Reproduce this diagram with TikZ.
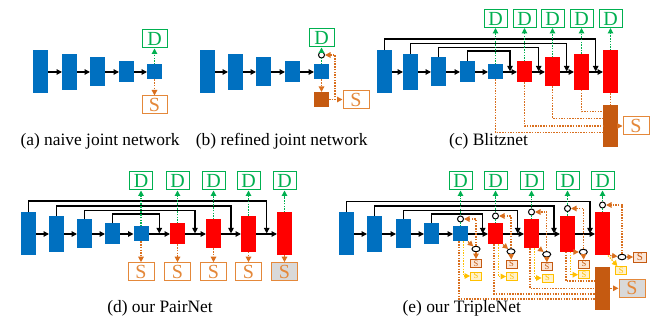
\documentclass[tikz,border=0pt]{standalone}
\usepackage{fontspec}
\setmainfont{Liberation Serif}
\usetikzlibrary{arrows.meta,shapes.geometric}

\definecolor{netblue}{HTML}{0070C0}
\definecolor{netred}{HTML}{FF0000}
\definecolor{segbrown}{HTML}{C55A11}
\definecolor{seglink}{HTML}{D96F1E}
\definecolor{segorange}{HTML}{E4883A}
\definecolor{segpale}{HTML}{FBE5D6}
\definecolor{detgreen}{HTML}{00B050}
\definecolor{segyellow}{HTML}{FFC000}
\definecolor{yelpale}{HTML}{FFF2CC}
\definecolor{boxgray}{HTML}{D9D9D9}

\begin{document}
\begin{tikzpicture}[x=1pt,y=-1pt,>={Triangle[length=5.5pt,width=5.5pt]},
 blk/.style={fill=netblue,minimum width=15pt,minimum height=#1,inner sep=0pt,outer sep=0pt},
 rblk/.style={blk=#1,fill=netred},
 oblk/.style={blk=#1,fill=segbrown},
 dbox/.style={draw=detgreen,line width=1pt,fill=white,text=detgreen,
  minimum width=23pt,minimum height=18pt,inner sep=0pt,font=\fontsize{20}{20}\selectfont},
 sbox/.style={draw=segorange,line width=1pt,fill=white,text=segorange,
  minimum width=26pt,minimum height=18pt,inner sep=0pt,font=\fontsize{20}{20}\selectfont},
 ssml/.style={draw=segbrown,line width=0.8pt,fill=segpale,text=segbrown,
  minimum width=11pt,minimum height=8pt,inner sep=0pt,font=\fontsize{8.5}{8.5}\selectfont},
 ysml/.style={ssml,draw=segyellow,fill=yelpale,text=segyellow},
 ring/.style={circle,draw,line width=1pt,fill=white,minimum size=6pt,inner sep=0pt},
 lring/.style={ellipse,draw,line width=1pt,fill=white,minimum width=8pt,minimum height=5.5pt,inner sep=0pt},
 fwd/.style={->,line width=1.2pt},
 det/.style={detgreen,line width=1.2pt,dash pattern=on 1.5pt off 1.2pt},
 seg/.style={seglink,line width=1.2pt,dash pattern=on 1.5pt off 1.2pt},
 yel/.style={segyellow,line width=1.2pt,dash pattern=on 1.5pt off 1.2pt},
 capt/.style={font=\fontsize{17.4}{20}\selectfont}]
 \useasboundingbox (0,0) rectangle (650,320);

 % (a) naive joint network
 \node[blk=43pt] (a1) at (40.5,72) {};
 \node[blk=36pt] (a2) at (69.5,72) {};
 \node[blk=29pt] (a3) at (97.5,72) {};
 \node[blk=21pt] (a4) at (126.5,72) {};
 \node[blk=15pt] (a5) at (154.5,72) {};
 \node[dbox,minimum width=25pt] (ad) at (154.5,39) {D};
 \node[sbox,minimum width=25pt] (as) at (154.5,105) {S};
 \foreach \s/\t in {1/2,2/3,3/4,4/5} \draw[fwd] (a\s) -- (a\t);
 \draw[det,->] (a5) -- (ad);
 \draw[seg,->] (a5) -- (as);
 \node[capt] (acap) at (100,141.5) {(a) naive joint network};

 % (b) refined joint network
 \node[blk=43pt] (b1) at (207.5,72) {};
 \node[blk=36pt] (b2) at (235.5,72) {};
 \node[blk=29pt] (b3) at (263.5,72) {};
 \node[blk=21pt] (b4) at (292.5,72) {};
 \node[blk=15pt] (b5) at (321.5,72) {};
 \node[dbox,minimum width=25pt] (bd) at (321.5,38) {D};
 \node[ring] (br) at (321.5,55) {};
 \node[oblk=15pt] (bo) at (321.5,99.5) {};
 \node[sbox] (bs) at (356,99.5) {S};
 \coordinate (bk) at (335,55);
 \foreach \s/\t in {1/2,2/3,3/4,4/5} \draw[fwd] (b\s) -- (b\t);
 \draw[det] (b5) -- (br);
 \draw[det,->] (br) -- (bd);
 \draw[seg,->] (b5) -- (bo);
 \draw[seg,->] (bo) -- (bs);
 \draw[seg,->] (bo.east) -| (bk) -- (br);
 \node[capt] (bcap) at (281.7,141.5) {(b) refined joint network};

 % (c) Blitznet
 \node[blk=43pt] (c1) at (384.5,72) {};
 \node[blk=36pt] (c2) at (410.5,72) {};
 \node[blk=29pt] (c3) at (438.5,72) {};
 \node[blk=21pt] (c4) at (467.5,72) {};
 \node[blk=15pt] (c5) at (495.5,72) {};
 \node[rblk=21pt] (c6) at (524.5,72) {};
 \node[rblk=29pt] (c7) at (552.5,72) {};
 \node[rblk=36pt] (c8) at (581.5,72) {};
 \node[rblk=43pt] (c9) at (610.5,72) {};
 \foreach \i in {5,...,9} \node[dbox] (cd\i) at (c\i |- 0,18.5) {D};
 \node[oblk=42pt] (co) at (610.5,126) {};
 \node[sbox] (cs) at (636,126) {S};
 \coordinate (ct1) at (595.7,39);
 \coordinate (ct2) at (566.7,43.3);
 \coordinate (ct3) at (538.7,47.7);
 \coordinate (ct4) at (510,51);
 \foreach \s/\t in {1/2,2/3,3/4,4/5,5/6,6/7,7/8,8/9} \draw[fwd] (c\s) -- (c\t);
 \foreach \s in {1,...,4} \draw[fwd,shorten >=0.6pt] (c\s.north) |- (ct\s) -- (ct\s |- c5.center);
 \foreach \i in {5,...,9} \draw[det,->] (c\i) -- (cd\i);
 \draw[seg] (c9) -- (co);
 \draw[seg] (c8.south) |- ([yshift=14.3pt]co.west);
 \draw[seg] (c7.south) |- ([yshift=7.7pt]co.west);
 \draw[seg] (c6.south) |- (co.west);
 \draw[seg] (c5.south) |- ([yshift=-6.3pt]co.west);
 \draw[seg,->] (co) -- (cs);
 \node[capt] (ccap) at (488.5,141.5) {(c) Blitznet};

 % (d) our PairNet
 \node[blk=43pt] (d1) at (28.5,234) {};
 \node[blk=36pt] (d2) at (56.5,234) {};
 \node[blk=29pt] (d3) at (84.5,234) {};
 \node[blk=21pt] (d4) at (112.5,234) {};
 \node[blk=15pt] (d5) at (141,234) {};
 \node[rblk=21pt] (d6) at (177.5,234) {};
 \node[rblk=29pt] (d7) at (213.5,234) {};
 \node[rblk=36pt] (d8) at (248.5,234) {};
 \node[rblk=43pt] (d9) at (284.5,234) {};
 \foreach \i in {5,...,9} \node[dbox] (dd\i) at (d\i |- 0,181) {D};
 \foreach \i in {5,...,8} \node[sbox] (ds\i) at (d\i |- 0,271.7) {S};
 \node[sbox,fill=boxgray] (ds9) at (d9 |- 0,271.7) {S};
 \coordinate (dt1) at (266.7,201);
 \coordinate (dt2) at (231,206);
 \coordinate (dt3) at (195,210.7);
 \coordinate (dt4) at (159.3,214);
 \foreach \s/\t in {1/2,2/3,3/4,4/5,5/6,6/7,7/8,8/9} \draw[fwd] (d\s) -- (d\t);
 \foreach \s in {1,...,4} \draw[fwd,shorten >=0.6pt] (d\s.north) |- (dt\s) -- (dt\s |- d5.center);
 \foreach \i in {5,...,9} {
  \draw[det,->] (d\i) -- (dd\i);
  \draw[seg,->] (d\i) -- (ds\i);
 }
 \node[capt] (dcap) at (160,308) {(d) our PairNet};

 % (e) our TripleNet
 \node[blk=43pt] (e1) at (346.5,234) {};
 \node[blk=36pt] (e2) at (374.5,234) {};
 \node[blk=29pt] (e3) at (403.5,234) {};
 \node[blk=21pt] (e4) at (431.5,234) {};
 \node[blk=15pt] (e5) at (460.5,234) {};
 \node[rblk=21pt] (e6) at (495.5,234) {};
 \node[rblk=29pt] (e7) at (531.5,234) {};
 \node[rblk=36pt] (e8) at (567.5,234) {};
 \node[rblk=43pt] (e9) at (602.5,234) {};
 \foreach \i in {5,...,9} {
  \node[dbox] (ed\i) at (e\i |- 0,181) {D};
  \node[ring] (eu\i) at ([yshift=7.5pt]e\i.north) {};
 }
 \node[lring] (el5) at (476,249) {};
 \node[lring] (el6) at (511,251.5) {};
 \node[lring] (el7) at (546.7,254.3) {};
 \node[lring] (el8) at (583.3,252) {};
 \node[lring] (el9) at (622,257) {};
 \node[ssml] (es5) at (476,263.5) {S};
 \node[ssml] (es6) at (511.5,264) {S};
 \node[ssml] (es7) at (547,266.7) {S};
 \node[ssml] (es8) at (584,264) {S};
 \node[ssml,minimum width=13pt,minimum height=10pt,font=\fontsize{11}{11}\selectfont] (es9) at (640,257) {S};
 \node[ysml] (ey5) at (476,276) {S};
 \node[ysml] (ey6) at (512,276.5) {S};
 \node[ysml] (ey7) at (547.5,278) {S};
 \node[ysml] (ey8) at (584,274.7) {S};
 \node[ysml] (ey9) at (621.3,270.5) {S};
 \node[oblk=43pt] (eo) at (602.5,288.3) {};
 \node[sbox,fill=boxgray] (es) at (632,288.3) {S};
 \coordinate (et1) at (590,201.7);
 \coordinate (et2) at (554,206);
 \coordinate (et3) at (517.7,210.3);
 \coordinate (et4) at (482.7,214);
 \foreach \s/\t in {1/2,2/3,3/4,4/5,5/6,6/7,7/8,8/9} \draw[fwd] (e\s) -- (e\t);
 \foreach \s in {1,...,4} \draw[fwd,shorten >=0.6pt] (e\s.north) |- (et\s) -- (et\s |- e5.center);
 \draw[seg] ([xshift=-1.5pt]e5.south) |- ([yshift=-10.7pt]eo.west);
 \draw[seg] ([xshift=-1.5pt]e6.south) |- ([yshift=-5.7pt]eo.west);
 \draw[seg] ([xshift=-1.5pt]e7.south) |- (eo.west);
 \draw[seg] ([xshift=-1.5pt]e8.south) |- ([yshift=7.3pt]eo.west);
 \foreach \i in {5,...,8} {
  \draw[yel,->] ([xshift=3pt]e\i.south) |- (ey\i);
  \draw[seg,->] (el\i) -- (es\i);
 }
 \draw[yel,->] ([xshift=-2pt]e9.south east) -- (ey9);
 \draw[seg,->] (el9) -- (es9);
 \foreach \i in {5,...,9} {
  \draw[det] (e\i) -- (eu\i);
  \draw[det,->] (eu\i) -- (ed\i);
  \draw[seg,->] (e\i.south east) -- (el\i);
  \draw[seg,->] (el\i) |- (eu\i);
 }
 \draw[seg,->] (eo) -- (es);
 \node[capt] (ecap) at (461.7,308) {(e) our TripleNet};
\end{tikzpicture}
\end{document}
